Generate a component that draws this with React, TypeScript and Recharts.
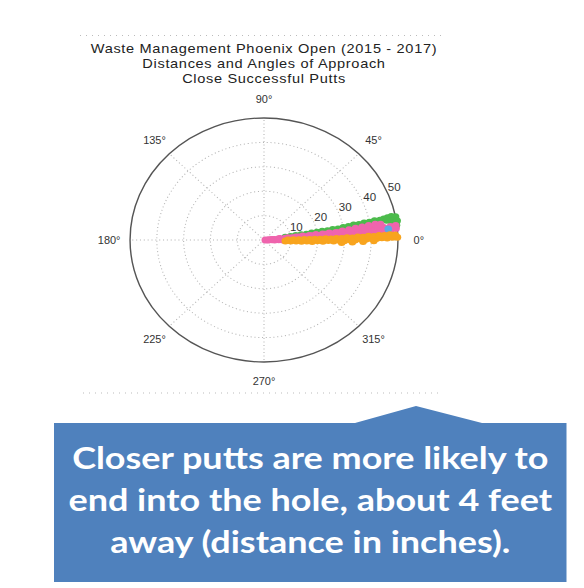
import React from "react";
import {
  ScatterChart,
  Scatter,
  XAxis,
  YAxis,
  ReferenceDot,
  ReferenceLine,
} from "recharts";

// angles in degrees (0° = hole line), distances in inches
const ANGLE_TICKS = [0, 45, 90, 135, 180, 225, 270, 315];
const RADIUS_TICKS = [10, 20, 30, 40, 50];
const TITLE_LINES = [
  "Waste Management Phoenix Open (2015 - 2017)",
  "Distances and Angles of Approach",
  "Close Successful Putts",
];
const NOTE_LINES = [
  "Closer putts are more likely to",
  "end into the hole, about 4 feet",
  "away (distance in inches).",
];

// [angle deg, distance]
const greenPutts: [number, number][] = [
  [8.0, 8], [8.5, 10], [8.8, 12], [9.0, 14], [8.6, 16], [9.2, 18], [9.0, 20],
  [9.4, 22], [9.1, 24], [9.5, 26], [9.3, 28], [9.8, 30], [10.0, 32], [10.4, 34],
  [10.2, 36], [10.6, 38], [10.5, 40], [10.8, 42], [10.6, 44], [10.9, 45.5],
  [11.2, 47], [11.5, 48.5], [11.0, 50], [9.5, 48], [8.0, 49], [7.0, 49.8],
  [9.0, 50.3], [6.5, 48.8], [10.0, 46.5],
];

const pinkPutts: [number, number][] = [
  [0, 0.5], [0.5, 1.5], [1, 3], [-0.5, 4], [0.8, 5.5], [0.3, 7], [1.2, 8.5], [0.6, 10], [1.5, 12],
  [2.5, 2], [3, 4], [3.2, 6], [2.8, 8], [3.4, 10], [3, 12.5], [3.5, 15], [3.2, 17.5], [3.6, 20],
  [3.3, 22.5], [3.8, 25], [3.5, 27.5], [4, 30], [3.8, 32.5], [4.2, 35], [4, 37.5], [4.5, 40],
  [4.3, 42.5], [4.8, 45], [5, 47.5], [5.5, 49.5],
  [4.5, 3], [5, 5.5], [5.2, 8], [4.8, 10.5], [5.3, 13], [5, 15.5], [5.5, 18], [5.2, 20.5],
  [5.8, 23], [5.5, 25.5], [6, 28], [5.8, 30.5], [6.3, 33], [6.1, 35.5], [6.6, 38], [6.5, 40.5],
  [6.8, 43], [6.5, 45], [6.7, 47.5], [6.9, 49.5],
  [6, 6], [6.2, 9], [6, 12], [6.3, 14.5], [6.2, 17], [6.5, 19.5], [6.4, 22], [6.8, 24.5],
  [6.6, 27], [7.2, 29.5], [7.5, 32], [8, 34.5], [8.2, 37], [8.6, 39.5], [8.8, 42], [8.5, 44],
];

const orangePutts: [number, number][] = [
  [-3, 8], [-2.5, 10], [-2, 12], [-2.2, 14], [-1.5, 16], [-1.8, 18], [-1, 20], [-1.3, 22],
  [-0.6, 24], [-0.9, 26], [-0.3, 28], [-0.5, 30], [0.2, 32], [0, 34], [0.6, 36], [0.4, 38],
  [0.9, 40], [0.8, 42], [1.2, 44], [1, 46], [1.4, 48], [1.3, 49.8],
  [0, 9], [0.5, 11], [0.3, 13], [0.8, 15], [0.6, 17], [1, 19], [0.8, 21], [1.2, 23], [1, 25],
  [1.4, 27], [1.2, 29], [1.7, 31], [1.5, 33], [2, 35], [1.8, 37], [2.2, 39], [2, 41], [2.5, 43],
  [2.3, 45], [2.6, 47], [2.4, 49],
  [-1.5, 33], [-1, 37], [-0.5, 41], [-2, 29],
];

const bluePutts: [number, number][] = [[5.5, 46.6]];

const RAD = Math.PI / 180;
const toXY = (pts: [number, number][]) =>
  pts.map(([deg, r]) => ({ x: r * Math.cos(deg * RAD), y: r * Math.sin(deg * RAD) }));

const CHART = 320;
const PLOT = 292.8; // 120 units -> 2.44 px per inch
const PX = PLOT / 120;
const M = (CHART - PLOT) / 2;
const LABEL_R = 57.8;
const RLABEL_ANGLE = 24;

const txt = { fill: "#333", fontSize: 10, fontFamily: "Liberation Sans, Arial, sans-serif" };

const dot = (color: string) => (p: any) => (
  <circle cx={p.cx} cy={p.cy} r={3.5} fill={color} />
);

export default function App() {
  return (
    <div style={{ position: "absolute", left: 0, top: 0, width: 584, height: 588, background: "#fff" }}>
      <svg width={584} height={588} style={{ position: "absolute", left: 0, top: 0 }}>
        <line x1={80} y1={35.5} x2={445} y2={35.5} stroke="#bbb" strokeDasharray="1 5" />
        <line x1={83} y1={393} x2={443} y2={393} stroke="#bbb" strokeDasharray="1 5" />
        <polygon
          points="54,423 355,423 416,406 482,423 566.5,423 566.5,582 54,582"
          fill="#4F81BD"
        />
      </svg>

      <div
        style={{
          position: "absolute",
          left: 64,
          top: 41,
          width: 400,
          textAlign: "center",
          fontFamily: "Liberation Sans, Arial, sans-serif",
          fontSize: 13,
          lineHeight: "15px",
          letterSpacing: 0.6,
          color: "#222",
          transform: "scaleX(1.12)",
          transformOrigin: "50% 50%",
          whiteSpace: "nowrap",
        }}
      >
        {TITLE_LINES.map((t) => (
          <div key={t}>{t}</div>
        ))}
      </div>

      <div
        style={{
          position: "absolute",
          left: 263.5 - CHART / 2,
          top: 239.5 - CHART / 2,
          width: CHART,
          height: CHART,
          transform: "scaleX(1.098)",
          transformOrigin: "50% 50%",
        }}
      >
        <ScatterChart width={CHART} height={CHART} margin={{ top: M, right: M, bottom: M, left: M }}>
          <XAxis type="number" dataKey="x" domain={[-60, 60]} hide />
          <YAxis type="number" dataKey="y" domain={[-60, 60]} hide />
          {RADIUS_TICKS.slice(0, -1).map((r) => (
            <ReferenceDot
              key={"ring" + r}
              x={0}
              y={0}
              r={r * PX}
              fill="none"
              stroke="#b5b5b5"
              strokeDasharray="1 2.5"
              ifOverflow="visible"
            />
          ))}
          {ANGLE_TICKS.map((a) => (
            <ReferenceLine
              key={"spoke" + a}
              segment={[
                { x: 0, y: 0 },
                { x: 50 * Math.cos(a * RAD), y: 50 * Math.sin(a * RAD) },
              ]}
              stroke="#b5b5b5"
              strokeDasharray="1 2.5"
              ifOverflow="visible"
            />
          ))}
          <ReferenceDot x={0} y={0} r={50 * PX} fill="none" stroke="#555" strokeWidth={1.3} ifOverflow="visible" />
          {ANGLE_TICKS.map((a) => (
            <ReferenceDot
              key={"al" + a}
              x={LABEL_R * Math.cos(a * RAD)}
              y={LABEL_R * Math.sin(a * RAD)}
              r={0.01}
              fill="none"
              stroke="none"
              ifOverflow="visible"
              label={{ value: `${a}°`, position: "center", ...txt }}
            />
          ))}
          {RADIUS_TICKS.map((r) => (
            <ReferenceDot
              key={"rl" + r}
              x={(r + 3.2) * Math.cos(RLABEL_ANGLE * RAD)}
              y={(r + 3.2) * Math.sin(RLABEL_ANGLE * RAD)}
              r={0.01}
              fill="none"
              stroke="none"
              ifOverflow="visible"
              label={{ value: String(r), position: "center", ...txt, fontSize: 10.5 }}
            />
          ))}
          <Scatter data={toXY(greenPutts)} shape={dot("#4cbb4c")} isAnimationActive={false} />
          <Scatter data={toXY(pinkPutts)} shape={dot("#ef64ad")} isAnimationActive={false} />
          <Scatter data={toXY(bluePutts)} shape={dot("#5aa9e6")} isAnimationActive={false} />
          <Scatter data={toXY(orangePutts)} shape={dot("#f8a41e")} isAnimationActive={false} />
        </ScatterChart>
      </div>

      <div
        style={{
          position: "absolute",
          left: 54,
          top: 436,
          width: 512.5,
          textAlign: "center",
          fontFamily: "Lato, 'Open Sans', sans-serif",
          fontWeight: 700,
          fontSize: 31,
          lineHeight: "42px",
          color: "#fff",
          transform: "scaleX(1.16)",
          transformOrigin: "50% 50%",
          whiteSpace: "nowrap",
        }}
      >
        {NOTE_LINES.map((t) => (
          <div key={t}>{t}</div>
        ))}
      </div>
    </div>
  );
}
